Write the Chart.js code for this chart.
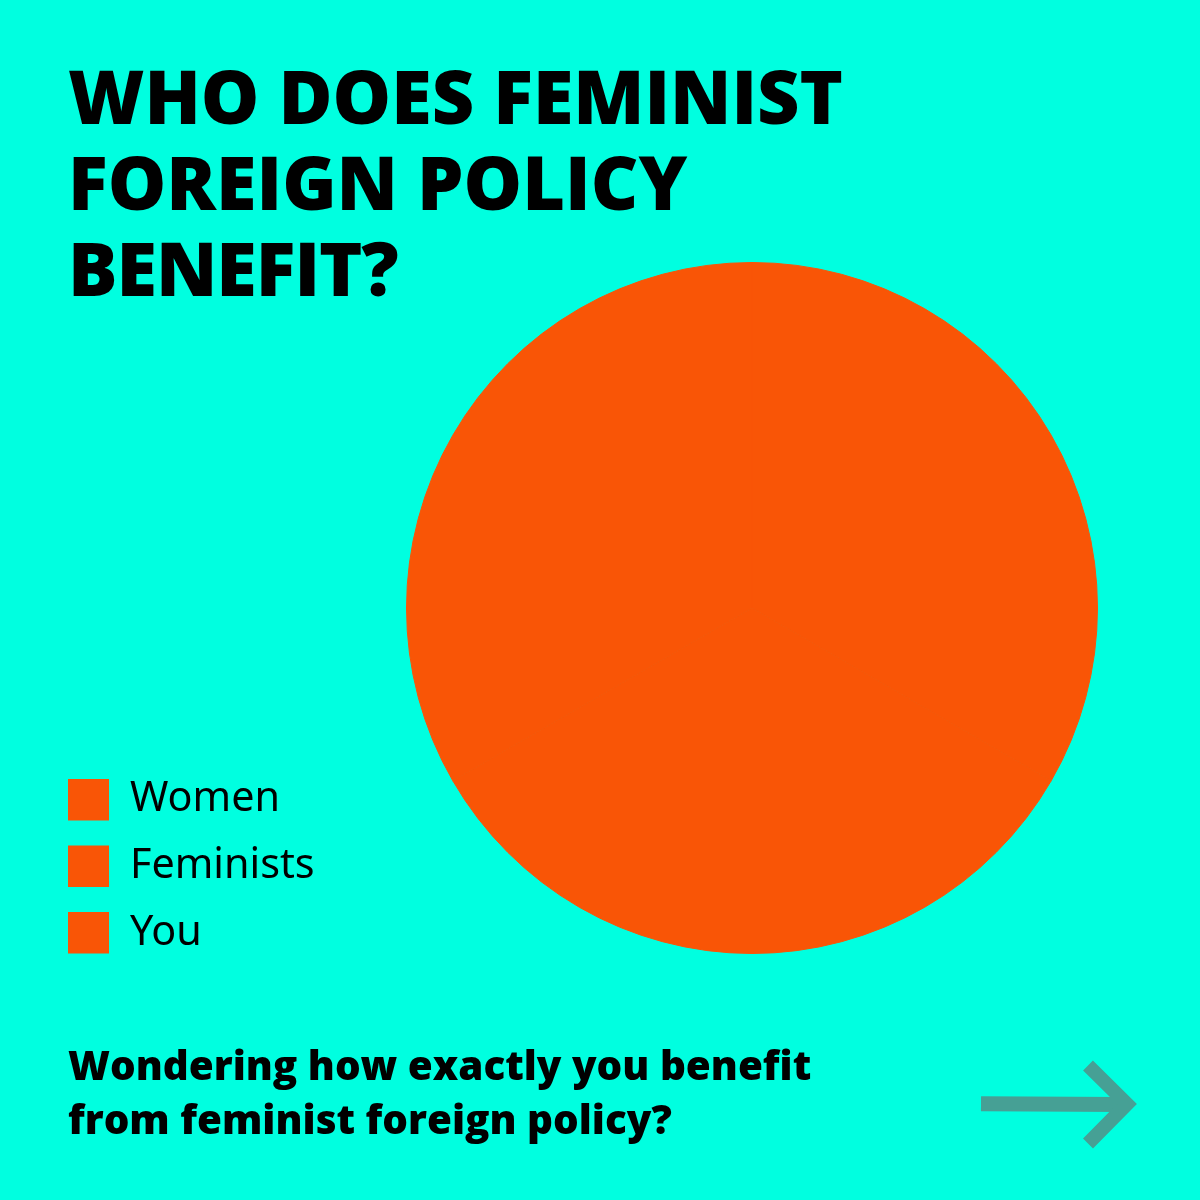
<!DOCTYPE html>
<html>
<head>
<meta charset="utf-8">
<script src="https://cdn.jsdelivr.net/npm/chart.js@4"></script>
<style>
  html, body { margin: 0; padding: 0; background: #00ffe0; }
  #wrap { position: relative; width: 1200px; height: 1200px; overflow: hidden; }
  canvas { position: absolute; left: 0; top: 0; }
</style>
</head>
<body>
<div id="wrap"><canvas id="chart" width="1200" height="1200"></canvas></div>
<script>
const categories = ['Women', 'Feminists', 'You'];
const shares = [100, 100, 100];
const titleLines = ['WHO DOES FEMINIST', 'FOREIGN POLICY', 'BENEFIT?'];
const footerLines = ['Wondering how exactly you benefit', 'from feminist foreign policy?'];

const orange = '#f95506';
const ink = '#000000';

// title, legend, footer and arrow drawn on the same canvas
const textLayer = {
    id: 'textLayer',
    afterDraw(chart) {
        const ctx = chart.ctx;
        ctx.save();
        ctx.fillStyle = ink;
        ctx.textBaseline = 'alphabetic';
        ctx.textAlign = 'left';

        ctx.font = '800 73.6px "Open Sans"';
        titleLines.forEach((line, i) => {
            // last line sits tighter in the original
            ctx.letterSpacing = i === 2 ? '-1px' : '0px';
            ctx.fillText(line, 68, 124 + i * 86);
        });
        ctx.letterSpacing = '0px';

        ctx.font = '41.3px "Noto Sans"';
        categories.forEach((name, i) => {
            const top = 779 + i * 66.5;
            ctx.fillStyle = orange;
            ctx.fillRect(68, top, 41, 41.5);
            ctx.fillStyle = ink;
            ctx.fillText(name, 130, 811 + i * 66.9);
        });

        ctx.font = '800 40.4px "Open Sans"';
        footerLines.forEach((line, i) => ctx.fillText(line, 68, 1080 + i * 54));

        ctx.strokeStyle = '#46a095';
        ctx.lineWidth = 15;
        ctx.lineJoin = 'miter';
        ctx.beginPath();
        ctx.moveTo(981, 1103.8);
        ctx.lineTo(1122, 1104.6);
        ctx.stroke();
        ctx.lineWidth = 14;
        ctx.beginPath();
        ctx.moveTo(1088, 1065.5);
        ctx.lineTo(1127, 1104);
        ctx.lineTo(1088, 1143.5);
        ctx.stroke();
        ctx.restore();
    }
};

Chart.defaults.font.family = '"Noto Sans"';

new Chart(document.getElementById('chart'), {
    type: 'pie',
    data: {
        labels: categories,
        datasets: [{
            data: shares,
            backgroundColor: orange,
            // same colour as the fill so the slice joins do not show
            borderColor: orange,
            borderWidth: 1
        }]
    },
    options: {
        responsive: false,
        animation: false,
        layout: { padding: { left: 406, right: 102, top: 262, bottom: 246 } },
        plugins: { legend: { display: false }, title: { display: false }, tooltip: { enabled: false } }
    },
    plugins: [textLayer]
});
</script>
</body>
</html>
